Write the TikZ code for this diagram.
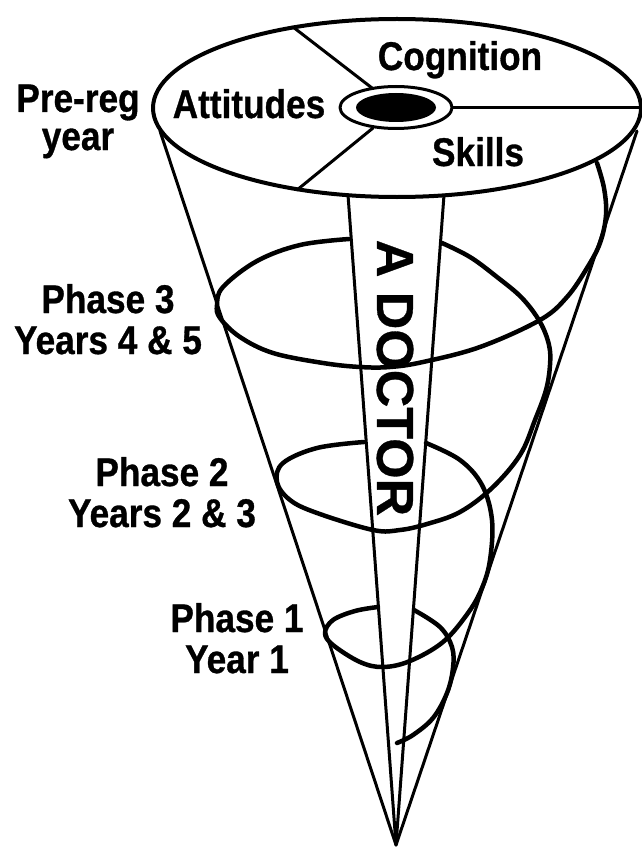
\documentclass[tikz,border=0pt]{standalone}
\usepackage{fontspec}
\setmainfont{Liberation Sans}[FakeBold=0.6]
\newfontfamily\lblfont{Liberation Sans}[FakeStretch=0.88, FakeBold=0.8]

\begin{document}
\begin{tikzpicture}[x=1pt, y=-1pt, line join=round, line cap=round,
    rim/.style={line width=4},
    edge/.style={line width=3},
    spiral/.style={line width=4.5},
    lbl/.style={font=\lblfont\bfseries\fontsize{40}{42}\selectfont, anchor=base, inner sep=0pt}]
  \useasboundingbox (0,0) rectangle (642,848);
  % Cone sides and the band
  \draw[edge] (160,131) -- (396,845) -- (637,131);
  \draw[edge] (348,195) -- (396,845) -- (444,195);
  % Top of the cone
  \draw[rim] (397,108) ellipse [x radius=244, y radius=89];
  \draw[edge] (372,88) -- (293,27);
  \draw[edge] (373,128) -- (297,190);
  \draw[edge] (452,108) -- (641,108);
  % Centre hole
  \draw[edge, fill=white] (396,107.5) ellipse [x radius=56, y radius=21];
  \fill (396,107.5) ellipse [x radius=40, y radius=14.5];
  % Spiral, back parts hidden by the band
  \draw[spiral] plot[smooth, tension=0.6] coordinates {(597,163) (604,188) (606,215)
    (600,243) (587,268) (567,297) (540,320) (480,347) (423,362) (390,367) (360,367)
    (323,363) (273,353) (240,337) (220,318) (217,305) (223,287) (257,261) (300,245) (349,239)};
  \draw[spiral] plot[smooth, tension=0.6] coordinates {(442,243) (470,257) (497,277)
    (522,298) (540,322) (549,345) (550,365) (546,390) (535,420) (520,455) (492,488)
    (460,512) (427,524) (400,530) (373,530) (317,513) (290,500) (277,482) (283,463)
    (317,448) (364,442)};
  \draw[spiral] plot[smooth, tension=0.6] coordinates {(426,443) (460,460) (482,485)
    (492,520) (490,560) (482,588) (468,613) (443,642) (410,661) (383,667) (360,662)
    (333,645) (325,633) (333,620) (355,611) (378,607)};
  \draw[spiral] plot[smooth, tension=0.6] coordinates {(414,610) (440,627) (452,647)
    (453,668) (447,693) (433,718) (413,735) (397,743)};
  % Band text
  \node[font=\bfseries\fontsize{52}{54}\selectfont, rotate=-90, inner sep=0pt] (doctor) at (395,378) {A DOCTOR};
  % Segments of the top
  \node[lbl] (cognition) at (460,70) {Cognition};
  \node[lbl] (attitudes) at (249,118) {Attitudes};
  \node[lbl] (skills) at (478,166) {Skills};
  % Stages
  \node[lbl] (prereg) at (78,112) {Pre-reg};
  \node[lbl] (preregyr) at (78,150) {year};
  \node[lbl] (phasethree) at (108,313) {Phase 3};
  \node[lbl] (phasethreeyr) at (108,354) {Years 4 \& 5};
  \node[lbl] (phasetwo) at (162,486) {Phase 2};
  \node[lbl] (phasetwoyr) at (162,527) {Years 2 \& 3};
  \node[lbl] (phaseone) at (237,632) {Phase 1};
  \node[lbl] (phaseoneyr) at (237,673) {Year 1};
\end{tikzpicture}
\end{document}
